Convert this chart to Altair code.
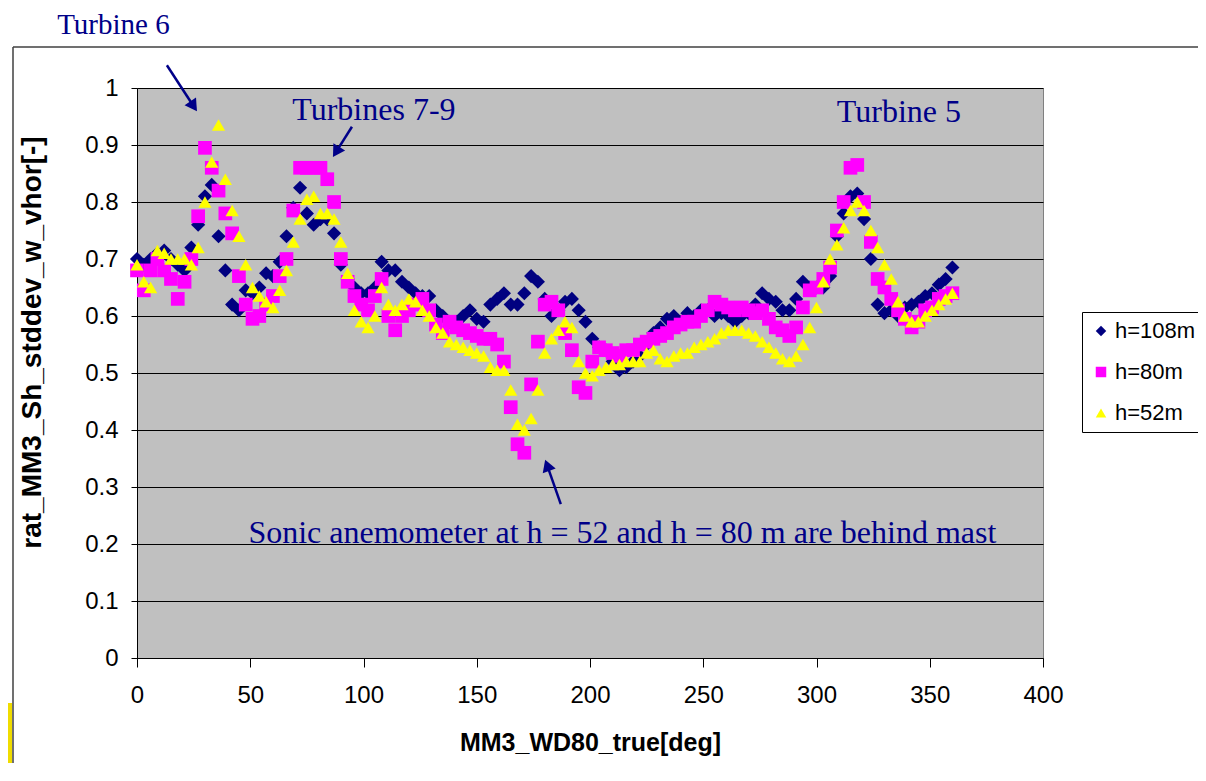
import altair as alt
import pandas as pd

# wind direction bins (deg)
deg = list(range(0, 361, 3))

# ratio values, one per 3-degree bin
h108 = [
    0.70, 0.69, 0.70, 0.71, 0.715, 0.70, 0.69, 0.68, 0.72, 0.76,      # 0-27
    0.81, 0.83, 0.74, 0.68, 0.62, 0.61, 0.645, 0.64, 0.65, 0.675,     # 30-57
    0.67, 0.695, 0.74, 0.79, 0.825, 0.78, 0.76, 0.77, 0.77, 0.745,    # 60-87
    0.69, 0.665, 0.65, 0.64, 0.64, 0.65, 0.695, 0.68, 0.68, 0.66,     # 90-117
    0.65, 0.64, 0.635, 0.635, 0.61, 0.60, 0.59, 0.59, 0.60, 0.61,     # 120-147
    0.595, 0.59, 0.62, 0.63, 0.64, 0.62, 0.62, 0.64, 0.67, 0.66,      # 150-177
    0.63, 0.60, 0.61, 0.625, 0.63, 0.61, 0.59, 0.56, 0.545, 0.54,     # 180-207
    0.52, 0.505, 0.51, 0.52, 0.53, 0.55, 0.57, 0.58, 0.595, 0.60,     # 210-237
    0.59, 0.605, 0.60, 0.61, 0.61, 0.60, 0.605, 0.60, 0.59, 0.60,     # 240-267
    0.605, 0.62, 0.64, 0.63, 0.625, 0.61, 0.61, 0.63, 0.66, 0.65,     # 270-297
    0.65, 0.65, 0.67, 0.74, 0.78, 0.81, 0.815, 0.77, 0.70, 0.62,      # 300-327
    0.605, 0.61, 0.60, 0.615, 0.62, 0.625, 0.635, 0.64, 0.655, 0.665, # 330-357
    0.685,                                                            # 360
]
h80 = [
    0.68, 0.645, 0.68, 0.70, 0.68, 0.665, 0.63, 0.66, 0.70, 0.775,
    0.895, 0.86, 0.82, 0.78, 0.745, 0.67, 0.62, 0.595, 0.60, 0.62,
    0.635, 0.67, 0.70, 0.785, 0.86, 0.86, 0.86, 0.86, 0.84, 0.80,
    0.70, 0.66, 0.635, 0.62, 0.61, 0.635, 0.665, 0.60, 0.575, 0.60,
    0.61, 0.62, 0.63, 0.61, 0.585, 0.57, 0.59, 0.58, 0.575, 0.57,
    0.565, 0.56, 0.56, 0.55, 0.52, 0.44, 0.375, 0.36, 0.48, 0.555,
    0.62, 0.625, 0.61, 0.57, 0.54, 0.475, 0.465, 0.52, 0.545, 0.54,
    0.535, 0.53, 0.54, 0.54, 0.55, 0.555, 0.56, 0.565, 0.57, 0.58,
    0.585, 0.59, 0.59, 0.60, 0.61, 0.625, 0.62, 0.615, 0.61, 0.615,
    0.61, 0.605, 0.61, 0.595, 0.58, 0.575, 0.565, 0.58, 0.615, 0.645,
    0.65, 0.665, 0.685, 0.75, 0.80, 0.86, 0.865, 0.80, 0.73, 0.665,
    0.65, 0.63, 0.61, 0.595, 0.58, 0.59, 0.61, 0.615, 0.63, 0.635,
    0.64,
]
h52 = [
    0.69, 0.66, 0.65, 0.715, 0.71, 0.70, 0.70, 0.70, 0.69, 0.72,
    0.80, 0.87, 0.935, 0.84, 0.785, 0.74, 0.69, 0.65, 0.635, 0.625,
    0.615, 0.645, 0.68, 0.73, 0.77, 0.805, 0.81, 0.78, 0.78, 0.77,
    0.73, 0.675, 0.61, 0.59, 0.58, 0.60, 0.65, 0.62, 0.61, 0.62,
    0.63, 0.625, 0.61, 0.60, 0.58, 0.57, 0.555, 0.55, 0.545, 0.54,
    0.535, 0.53, 0.51, 0.505, 0.505, 0.47, 0.41, 0.40, 0.42, 0.47,
    0.535, 0.56, 0.575, 0.59, 0.58, 0.52, 0.50, 0.495, 0.505, 0.51,
    0.515, 0.515, 0.52, 0.52, 0.52, 0.535, 0.54, 0.525, 0.52, 0.53,
    0.535, 0.535, 0.545, 0.55, 0.555, 0.56, 0.57, 0.575, 0.575, 0.575,
    0.57, 0.565, 0.555, 0.545, 0.535, 0.525, 0.52, 0.53, 0.55, 0.58,
    0.615, 0.66, 0.70, 0.725, 0.755, 0.785, 0.80, 0.785, 0.75, 0.72,
    0.69, 0.665, 0.625, 0.60, 0.59, 0.59, 0.60, 0.61, 0.62, 0.63,
    0.64,
]

series_names = ["h=108m", "h=80m", "h=52m"]
series_colors = ["#000080", "#FF00FF", "#FFFF00"]
series_shapes = ["diamond", "square", "triangle-up"]
series_sizes = [200, 175, 240]

x_ticks = [0, 50, 100, 150, 200, 250, 300, 350, 400]
y_ticks = [0, 0.1, 0.2, 0.3, 0.4, 0.5, 0.6, 0.7, 0.8, 0.9, 1]

# annotations (placed in data coordinates, alphabetic baseline)
note_text = ["Turbine 6", "Turbines 7-9", "Turbine 5",
             "Sonic anemometer at h = 52 and h = 80 m are behind mast"]
note_deg = [-10.4, 104.6, 336.4, 214.3]
note_val = [1.0947, 0.944, 0.941, 0.202]
note_size = [29, 32, 32, 32]

arrow_deg = [13.2, 94.9, 187.1]
arrow_val = [1.040, 0.932, 0.270]
arrow_deg2 = [25.0, 87.9, 181.1]
arrow_val2 = [0.968, 0.888, 0.338]
arrow_angle = [146, 212, 340]

rows = []
for name, vals in zip(series_names, [h108, h80, h52]):
    for d, v in zip(deg, vals):
        rows.append({"series": name, "deg": d, "val": v})
df = pd.DataFrame(rows)

notes = pd.DataFrame({"deg": note_deg, "val": note_val, "text": note_text, "fs": note_size})
arrows = pd.DataFrame({"deg": arrow_deg, "val": arrow_val,
                       "deg2": arrow_deg2, "val2": arrow_val2, "ang": arrow_angle})

x_scale = alt.Scale(domain=[0, 400], nice=False, zero=False)
y_scale = alt.Scale(domain=[0, 1], nice=False)

FONT = "Liberation Sans"
NAVY = "#000088"

legend = alt.Legend(
    title=None, orient="none", legendX=945, legendY=224, direction="vertical",
    fillColor="white", strokeColor="black", padding=8, rowPadding=19,
    labelFont=FONT, labelFontSize=22, labelColor="black", labelOffset=3,
    symbolSize=110, symbolStrokeWidth=0, symbolOpacity=1,
)

x_axis = alt.Axis(
    title="MM3_WD80_true[deg]", values=x_ticks, grid=False,
    domainColor="black", tickColor="black", tickSize=9, labelPadding=16,
    labelFont=FONT, labelFontSize=24, labelColor="black",
    labelFlush=False, labelOverlap=False,
    titleFont=FONT, titleFontSize=25, titleFontWeight="bold", titleColor="black",
    titleX=453, titleY=84, titleBaseline="middle", titleAlign="center",
)
y_axis = alt.Axis(
    title="rat_MM3_Sh_stddev_w_vhor[-]", values=y_ticks, format="~g",
    grid=True, gridColor="black", gridWidth=1,
    domainColor="black", tickColor="black", tickSize=6, labelPadding=13,
    labelFont=FONT, labelFontSize=24, labelColor="black",
    labelFlush=False, labelOverlap=False,
    titleFont=FONT, titleFontSize=28, titleFontWeight="bold", titleColor="black",
    titleAngle=270, titleX=-105, titleY=254, titleBaseline="middle", titleAlign="center",
)

points = alt.Chart(df).mark_point(filled=True, opacity=1, strokeWidth=0).encode(
    x=alt.X("deg:Q", scale=x_scale, axis=x_axis),
    y=alt.Y("val:Q", scale=y_scale, axis=y_axis),
    color=alt.Color("series:N", scale=alt.Scale(domain=series_names, range=series_colors), legend=legend),
    shape=alt.Shape("series:N", scale=alt.Scale(domain=series_names, range=series_shapes), legend=legend),
    size=alt.Size("series:N", scale=alt.Scale(domain=series_names, range=series_sizes), legend=None),
)

texts = alt.Chart(notes).mark_text(
    font="Liberation Serif", color=NAVY, align="center", baseline="alphabetic"
).encode(
    x=alt.X("deg:Q", scale=x_scale),
    y=alt.Y("val:Q", scale=y_scale),
    text="text:N",
    size=alt.Size("fs:Q", scale=None),
)

shafts = alt.Chart(arrows).mark_rule(color=NAVY, strokeWidth=2.5).encode(
    x=alt.X("deg:Q", scale=x_scale), y=alt.Y("val:Q", scale=y_scale),
    x2="deg2:Q", y2="val2:Q",
)
heads = alt.Chart(arrows).mark_point(shape="triangle-up", filled=True, color=NAVY, opacity=1, size=190).encode(
    x=alt.X("deg2:Q", scale=x_scale), y=alt.Y("val2:Q", scale=y_scale),
    angle=alt.Angle("ang:Q", scale=None),
)

one = pd.DataFrame({"k": [0]})
frame_left = alt.Chart(one).mark_rule(color="#404040", strokeWidth=1.5).encode(
    x=alt.value(-124), y=alt.value(-41), y2=alt.value(700))
frame_top = alt.Chart(one).mark_rule(color="#404040", strokeWidth=1.5).encode(
    x=alt.value(-124), x2=alt.value(1100), y=alt.value(-41))
yellow_bar = alt.Chart(one).mark_rect(color="#F0DC00").encode(
    x=alt.value(-129), x2=alt.value(-125), y=alt.value(615), y2=alt.value(700))

chart = alt.layer(points, texts, shafts, heads, frame_left, frame_top, yellow_bar).resolve_scale(
    size="independent"
).properties(
    width=906, height=570,
    autosize=alt.AutoSizeParams(type="none"),
    padding={"left": 129, "top": 80, "right": 155, "bottom": 105},
    background="white",
).configure_view(fill="#C0C0C0", stroke="#808080", strokeWidth=1)

chart.save("out.html", embed_options={"renderer": "svg", "actions": False})
